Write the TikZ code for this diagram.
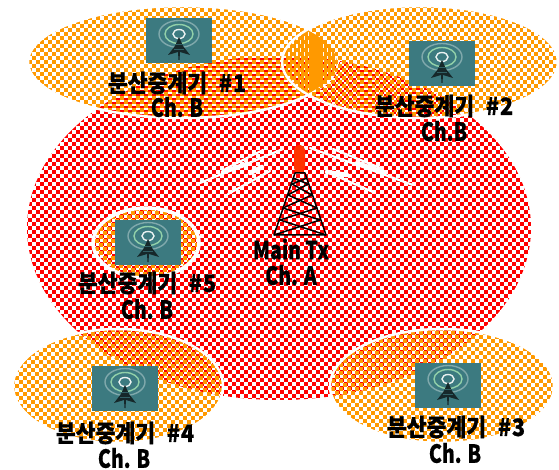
\documentclass[tikz,border=0pt]{standalone}
\usepackage{fontspec}
\newfontfamily\kr{Noto Sans CJK KR}[BoldFeatures={FakeBold=0.5}]
\definecolor{chkred}{HTML}{FF0000}
\definecolor{chkor}{HTML}{FF9900}
\definecolor{icbg}{HTML}{3C7A80}
\definecolor{icdark}{HTML}{16282A}
\definecolor{capc}{HTML}{FF3300}
\newcommand{\chkfill}[4]{% xperiod phasex phasey colour; rows anchored to the page
  \pgfmathsetmacro{\hp}{#1/2}
  \foreach \r in {0,...,118}{
    \pgfmathsetmacro{\yy}{(#3)+\r*4}
    \pgfmathsetmacro{\ph}{(#2)+mod(\r,2)*\hp}
    \draw[#4,line width=4pt,dash pattern=on \hp pt off \hp pt,dash phase=\ph pt] (0,\yy) -- (565,\yy);
  }
}
\newcommand{\chkell}[9]{% cx cy rx ry xperiod phx phy colour width
  \begin{scope}
    \clip (#1,#2) ellipse [x radius=#3,y radius=#4];
    \chkfill{#5}{#6}{#7}{#8}
  \end{scope}
  \draw[white,line width=#9pt] (#1,#2) ellipse [x radius=#3,y radius=#4];
}
\newcommand{\relayicon}[3]{%
  \begin{scope}[shift={(#1,#2)}]
    \node[icbox] (#3) at (33,22.5) {};
    \draw[icring,draw=white!35!icbg] (33,16) ellipse [x radius=20,y radius=13.5];
    \draw[icring,draw=green!25!white!65!icbg] (33,16) ellipse [x radius=14,y radius=9.5];
    \draw[icring,draw=white!90!icbg] (33,16) ellipse [x radius=6,y radius=4.5];
    \fill[icdark] (33,19) -- (37,28) -- (44,37) -- (34,34) -- (33.5,42) -- (32.5,42) -- (32,34) -- (22,37) -- (29,28) -- cycle;
    \draw[icbg!70!icdark,line width=.5pt] (30,26) -- (36,26) (28,31) -- (38,31);
  \end{scope}
}
\tikzset{
  icbox/.style={fill=icbg,draw=none,minimum width=66pt,minimum height=45pt,inner sep=0pt,outer sep=0pt},
  icring/.style={line width=1.4pt},
  lbl/.style={text=black,inner sep=0pt,align=center,font=\kr\bfseries},
  zap/.style={white,line width=2.2pt,line cap=round,line join=round},
  zapthick/.style={white,line width=4.5pt,line cap=round},
  twr/.style={black,line width=1.5pt,line join=round},
}
\newcommand{\krt}[1]{\scalebox{.9}[1]{\fontsize{24}{26}\selectfont #1}}
\newcommand{\lat}[1]{\scalebox{.78}[1]{\fontsize{25}{27}\selectfont #1}}
\newcommand{\relaylabel}[1]{\krt{분산중계기\hspace{13pt}\#\hspace{1pt}#1}}
\begin{document}
\begin{tikzpicture}[x=1pt,y=-1pt]
\useasboundingbox (0,0) rectangle (559,470);
\fill[white] (0,0) rectangle (559,470);
% main coverage
\begin{scope}
  \clip (279,228) ellipse [x radius=252,y radius=172];
  \chkfill{8}{0}{0}{chkred}
\end{scope}
% repeaters
\chkell{183}{62}{155}{56}{8}{0}{2}{chkor}{2.5}
\chkell{420}{62}{138}{56}{7.4}{2.2}{2}{chkor}{2.5}
\chkell{442}{386}{112}{57}{8}{0.6}{0.6}{chkor}{2.5}
\chkell{118}{386}{105}{57}{8}{1.5}{1.5}{chkor}{2.5}
\chkell{146}{243}{53}{35}{8}{1}{1.5}{chkor}{3.5}
% icons
\relayicon{146}{18}{ic1}
\relayicon{409}{41}{ic2}
\relayicon{415}{363}{ic3}
\relayicon{92}{366}{ic4}
\relayicon{115}{220}{ic5}
% signal bolts
\draw[zap] (283,149) -- (200,183);
\draw[zap] (270,171) -- (228,194);
\draw[zap] (263,150) -- (225,169);
\draw[zapthick] (223,172) -- (247,164);
\draw[zapthick] (250,173) -- (262,167);
\draw[zap] (310,148) -- (413,185);
\draw[zap] (327,172) -- (373,192);
\draw[zap] (333,149) -- (383,169);
\draw[zapthick] (357,163) -- (383,172);
\draw[zapthick] (327,172) -- (347,175);
% tower
\fill[capc,rounded corners=5pt] (294,173) -- (294,145) -- (305,145) -- (305,173) -- cycle;
\draw[twr] (295,173) -- (274,235) -- (326,235) -- (305,173) -- cycle;
\draw[twr] (293,178) -- (308,184) -- (288,195) -- (317,208) -- (280,220) -- (326,235);
\draw[twr] (307,178) -- (292,184) -- (312,195) -- (283,208) -- (320,220) -- (274,235);
% labels
\node[lbl] (t1) at (177,83) {\relaylabel{1}};
\node[lbl] (c1) at (177,107) {\lat{Ch. B}};
\node[lbl] (t2) at (444,106) {\relaylabel{2}};
\node[lbl] (c2) at (444,131) {\lat{Ch.B}};
\node[lbl] (t3) at (456,427) {\relaylabel{3}};
\node[lbl] (c3) at (455,453) {\lat{Ch. B}};
\node[lbl] (t4) at (125,433) {\relaylabel{4}};
\node[lbl] (c4) at (124,458) {\lat{Ch. B}};
\node[lbl] (t5) at (147,283) {\relaylabel{5}};
\node[lbl] (c5) at (147,309) {\lat{Ch. B}};
\node[lbl] (m1) at (291,249) {\lat{Main Tx}};
\node[lbl] (m2) at (291,275) {\lat{Ch. A}};
\end{tikzpicture}
\end{document}
